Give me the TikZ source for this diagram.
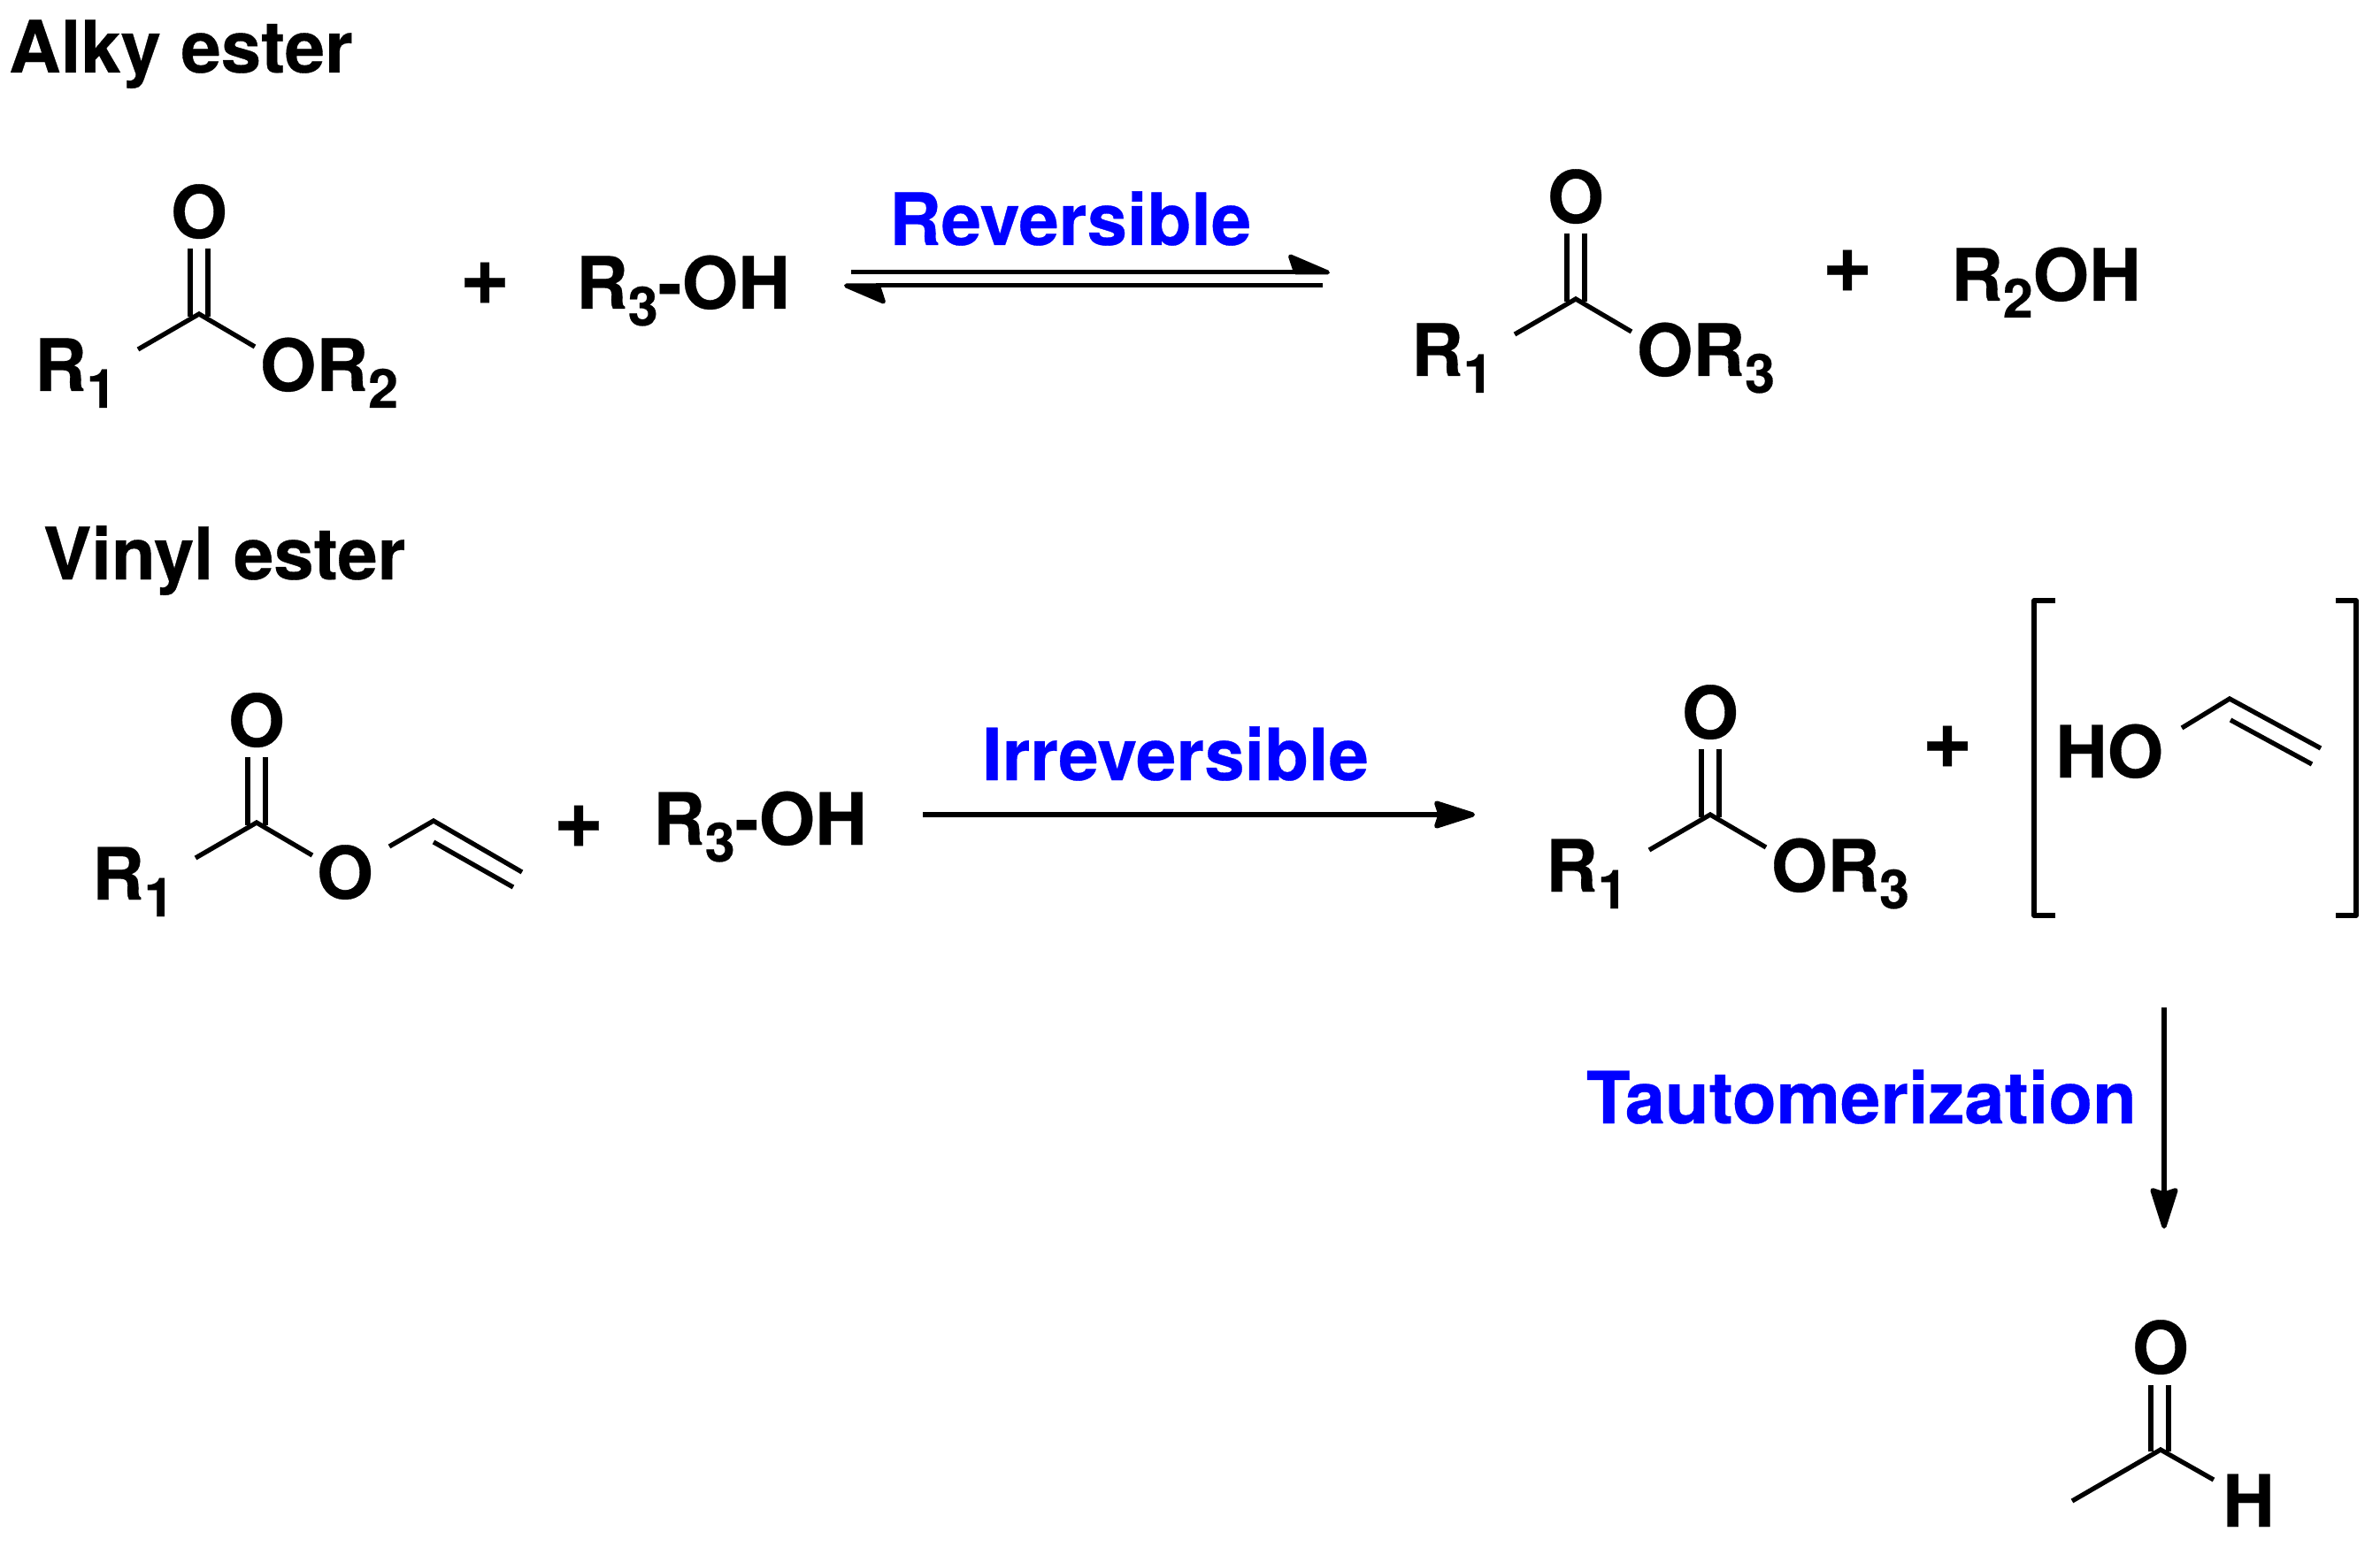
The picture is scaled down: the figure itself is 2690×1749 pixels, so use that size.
\documentclass[tikz,border=0pt]{standalone}
\usepackage{fontspec}
\setmainfont{TeX Gyre Heros}[BoldFeatures={FakeBold=0.4}]
\usetikzlibrary{arrows.meta}
\newcommand{\subdig}[1]{\raisebox{-9.5pt}{\fontsize{30.5}{31}\selectfont #1}}
\tikzset{
  lbl/.style={anchor=base west,inner sep=0pt,outer sep=0pt,font=\fontsize{40.7}{48}\selectfont\bfseries},
  atom/.style={anchor=base,inner sep=0pt,outer sep=0pt,font=\fontsize{41}{48}\selectfont\bfseries},
  plus/.style={anchor=base,inner sep=0pt,outer sep=0pt,font=\fontsize{49}{52}\selectfont\bfseries},
  blue lbl/.style={lbl,text=blue},
  bond/.style={line width=2.65pt,line join=miter,line cap=butt},
  rxn/.style={line width=2.65pt,-{Stealth[length=26.5pt,width=16.5pt,inset=2.5pt,round]}},
  harp/.style={line width=2.5pt,-{Stealth[harpoon,length=26pt,width=22pt,inset=3.5pt,round]}},
  bracket/.style={line width=2.65pt,line join=round}
}
% carbonyl skeleton: #1 prefix, (#2,#3) carbon; R1 on the left, O on top
\newcommand{\carbonyl}[3]{%
  \begin{scope}[shift={(#2,#3)}]
    \coordinate (#1C) at (0,0);
    \coordinate (#1Ca) at (-10,3);
    \coordinate (#1Cb) at (10,3);
    \coordinate (#1Oa) at (-10,-74);
    \coordinate (#1Ob) at (10,-74);
    \coordinate (#1L) at (-69,40);
    \coordinate (#1R) at (63,37);
    \node[atom] (#1O) at (0,-86) {O};
    \node[lbl] (#1Rone) at (-186,87) {R\subdig{1}};
    \draw[bond] (#1L) -- (#1C) -- (#1R);
    \draw[bond] (#1Ca) -- (#1Oa);
    \draw[bond] (#1Cb) -- (#1Ob);
  \end{scope}}
\begin{document}
\begin{tikzpicture}[x=0.5pt,y=-0.5pt]
\useasboundingbox (0,0) rectangle (2690,1749);
% titles
\node[lbl] (t1) at (10,82) {Alky ester};
\node[lbl] (t2) at (49,655) {Vinyl ester};
% row 1
\carbonyl{a}{225}{355}
\node[lbl] (aOR) at (294,442) {OR\subdig{2}};
\node[plus] (p1) at (548,344) {+};
\node[lbl] (r3a) at (651,349) {R\subdig{3}-OH};
\node[blue lbl] (rev) at (1005,277) {Reversible};
\coordinate (h1a) at (962,308);
\coordinate (h1b) at (1503,308);
\coordinate (h2a) at (1495,323);
\coordinate (h2b) at (954,323);
\draw[harp] (h1a) -- (h1b);
\draw[harp] (h2a) -- (h2b);
\carbonyl{b}{1781}{338}
\node[lbl] (bOR) at (1850,425) {OR\subdig{3}};
\node[plus] (p2) at (2088,330) {+};
\node[lbl] (r2) at (2205,340) {R\subdig{2}OH};
% row 2
\carbonyl{c}{290}{930}
\node[atom] (vO) at (390,1016) {O};
\coordinate (va) at (440,957);
\coordinate (vb) at (490,928);
\coordinate (vc) at (590,986);
\coordinate (vd) at (490,952);
\coordinate (ve) at (580,1003);
\draw[bond] (va) -- (vb) -- (vc);
\draw[bond] (vd) -- (ve);
\node[plus] (p3) at (654,958) {+};
\node[lbl] (r3b) at (738,955) {R\subdig{3}-OH};
\node[blue lbl] (irr) at (1110,882) {Irreversible};
\coordinate (ra) at (1043,921);
\coordinate (rb) at (1667,921);
\draw[rxn] (ra) -- (rb);
\carbonyl{d}{1933}{921}
\node[lbl] (dOR) at (2002,1008) {OR\subdig{3}};
\node[plus] (p4) at (2201,868) {+};
% bracket
\coordinate (bl1) at (2323,679);
\coordinate (bl2) at (2299,679);
\coordinate (bl3) at (2299,1035);
\coordinate (bl4) at (2323,1035);
\coordinate (br1) at (2640,679);
\coordinate (br2) at (2663,679);
\coordinate (br3) at (2663,1035);
\coordinate (br4) at (2640,1035);
\draw[bracket] (bl1) -- (bl2) -- (bl3) -- (bl4);
\draw[bracket] (br1) -- (br2) -- (br3) -- (br4);
\node[lbl] (ho) at (2323,879) {HO};
\coordinate (ea) at (2466,823);
\coordinate (eb) at (2520,790);
\coordinate (ec) at (2623,846);
\coordinate (ed) at (2521,814);
\coordinate (ee) at (2613,864);
\draw[bond] (ea) -- (eb) -- (ec);
\draw[bond] (ed) -- (ee);
% tautomerization
\node[blue lbl] (tau) at (1793,1270) {Tautomerization};
\coordinate (ta) at (2446,1139);
\coordinate (tb) at (2446,1389);
\draw[rxn] (ta) -- (tb);
% acetaldehyde
\coordinate (ac) at (2442,1639);
\coordinate (aca) at (2431,1641);
\coordinate (acb) at (2451,1641);
\coordinate (aoa) at (2431,1566);
\coordinate (aob) at (2451,1566);
\coordinate (al) at (2342,1697);
\coordinate (ar) at (2502,1673);
\node[atom] (ao) at (2442,1553) {O};
\node[lbl] (ah) at (2512,1726) {H};
\draw[bond] (al) -- (ac) -- (ar);
\draw[bond] (aca) -- (aoa);
\draw[bond] (acb) -- (aob);
\end{tikzpicture}
\end{document}
